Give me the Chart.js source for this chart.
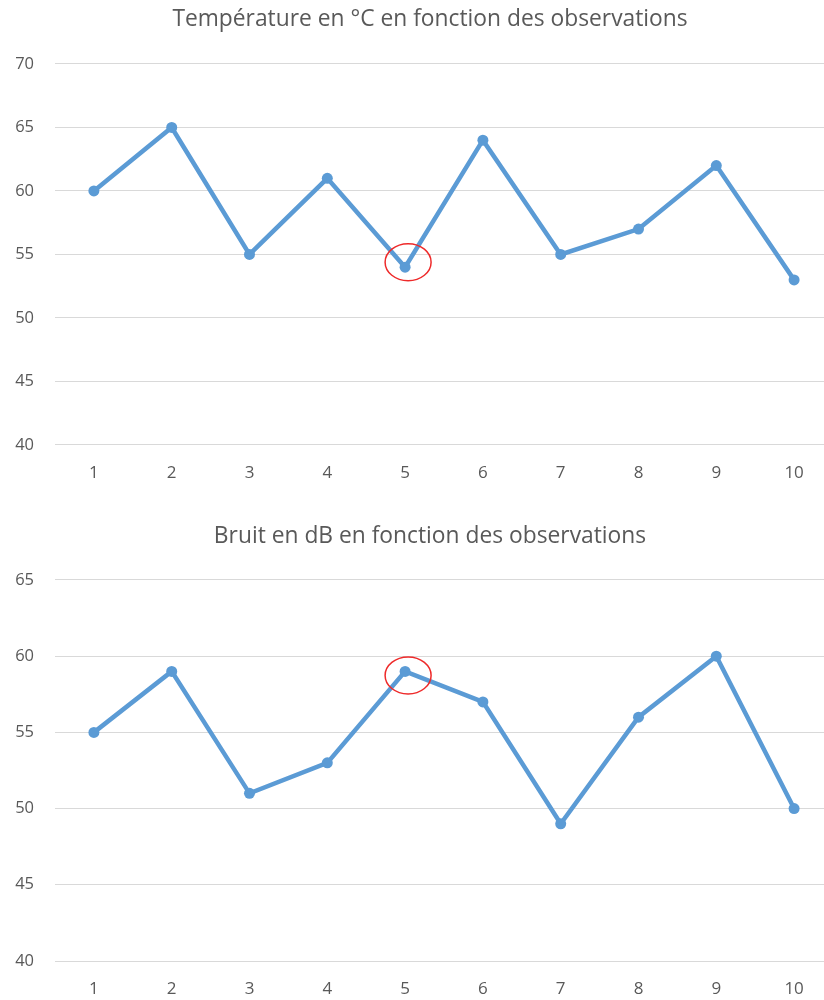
<!DOCTYPE html>
<html lang="fr">
<head>
<meta charset="utf-8">
<script src="https://cdn.jsdelivr.net/npm/chart.js@4/dist/chart.umd.min.js"></script>
<style>
  html, body { margin: 0; padding: 0; background: #fff; overflow: hidden; }
  .wrap { position: relative; width: 860px; }
  canvas { display: block; }
</style>
</head>
<body>
<div class="wrap"><canvas id="temp" width="860" height="501"></canvas></div>
<div class="wrap"><canvas id="bruit" width="860" height="516"></canvas></div>
<script>
// Observations numbered 1..10
const observations = ['1', '2', '3', '4', '5', '6', '7', '8', '9', '10'];

// Température (°C) per observation
const temperature = [60, 65, 55, 61, 54, 64, 55, 57, 62, 53];
const tempTitle = 'Température en °C en fonction des observations';
const tempAxis = { min: 40, max: 70, step: 5 };

// Bruit (dB) per observation
const bruit = [55, 59, 51, 53, 59, 57, 49, 56, 60, 50];
const bruitTitle = 'Bruit en dB en fonction des observations';
const bruitAxis = { min: 40, max: 65, step: 5 };

// Observation that is circled on both charts (0-based index)
const circledIndex = 4;

const TEXT = '#595959';
const GRID = '#d9d9d9';
const LINE = '#5b9bd5';
const FONT = '"Open Sans", sans-serif';

// Draws a red ellipse around a chosen point, offset from the point centre
const circlePlugin = {
  id: 'circleMark',
  afterDatasetsDraw(chart, args, opts) {
    const meta = chart.getDatasetMeta(0);
    const el = meta.data[opts.index];
    if (!el) return;
    const ctx = chart.ctx;
    ctx.save();
    ctx.strokeStyle = '#ee2a2a';
    ctx.lineWidth = 1.5;
    ctx.beginPath();
    ctx.ellipse(el.x + opts.dx, el.y + opts.dy, opts.rx, opts.ry, 0, 0, Math.PI * 2);
    ctx.stroke();
    ctx.restore();
  }
};

function makeChart(id, values, title, axis, titlePad, mark) {
  return new Chart(document.getElementById(id), {
    type: 'line',
    data: {
      labels: observations,
      datasets: [{
        data: values,
        yAxisID: 'y',
        borderColor: LINE,
        backgroundColor: LINE,
        borderWidth: 4.5,
        pointRadius: 5.5,
        pointHoverRadius: 5.5,
        pointBorderWidth: 0,
        tension: 0,
        fill: false
      }]
    },
    options: {
      responsive: false,
      animation: false,
      events: [],
      layout: { padding: 0 },
      plugins: {
        legend: { display: false },
        tooltip: { enabled: false },
        title: {
          display: true,
          text: title,
          color: TEXT,
          font: { family: FONT, size: 22.8, weight: 'normal', lineHeight: 1.2 },
          padding: titlePad
        },
        circleMark: mark
      },
      scales: {
        x: {
          offset: true,
          grid: { display: false, drawTicks: false },
          border: { display: false },
          ticks: { color: TEXT, font: { family: FONT, size: 17, lineHeight: 1.2 }, padding: 17.8, maxRotation: 0 }
        },
        y: {
          min: axis.min,
          max: axis.max,
          afterFit(scale) { scale.width = 55; },
          grid: { color: GRID, lineWidth: 1, drawTicks: false },
          border: { display: false },
          ticks: { stepSize: axis.step, color: TEXT, font: { family: FONT, size: 16.5 }, padding: 21 }
        },
        // empty right-hand margin so the title sits centred over the whole frame
        margin: {
          type: 'linear',
          position: 'right',
          afterFit(scale) { scale.width = 27; },
          grid: { display: false, drawTicks: false },
          border: { display: false },
          ticks: { display: false }
        }
      }
    },
    plugins: [circlePlugin]
  });
}

makeChart('temp', temperature, tempTitle, tempAxis,
  { top: 6.3, bottom: 30.3 },
  { index: circledIndex, dx: 3, dy: -5, rx: 23, ry: 18.5 });

makeChart('bruit', bruit, bruitTitle, bruitAxis,
  { top: 22.3, bottom: 29.3 },
  { index: circledIndex, dx: 3, dy: 4, rx: 23, ry: 18.5 });
</script>
</body>
</html>
